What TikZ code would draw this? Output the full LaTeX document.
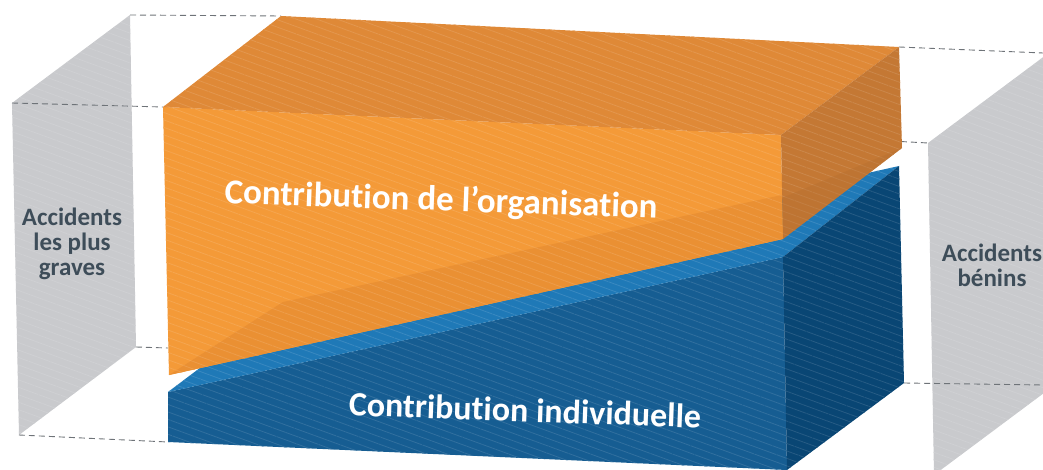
\documentclass[tikz,border=0pt]{standalone}
\usepackage{fontspec}
\setmainfont[RawFeature=-liga]{Carlito}
\usetikzlibrary{patterns.meta}

\definecolor{orfront}{RGB}{244,154,56}
\definecolor{ortop}{RGB}{223,137,55}
\definecolor{orside}{RGB}{196,120,52}
\definecolor{orshade}{RGB}{234,144,51}
\definecolor{blfront}{RGB}{22,93,146}
\definecolor{bltop}{RGB}{31,121,183}
\definecolor{blside}{RGB}{9,70,116}
\definecolor{panelgray}{RGB}{201,202,205}
\definecolor{slate}{RGB}{62,77,89}
\definecolor{guidegray}{RGB}{110,115,120}

\tikzset{
  face/.style={fill=#1,postaction={pattern={Lines[angle=-20,distance=7pt,line width=0.8pt]},pattern color=#1!88!white}},
  guide/.style={draw=guidegray,line width=0.9pt,dash pattern=on 6pt off 4pt},
  sidelabel/.style={text=slate,align=center,font=\bfseries\fontsize{25}{25}\selectfont},
  boxlabel/.style={text=white,font=\bfseries\fontsize{35}{38}\selectfont}
}

\begin{document}
\begin{tikzpicture}[x=1pt,y=-1pt]
    \useasboundingbox (0,0) rectangle (1043,470);
    \clip (0,0) rectangle (1043,470);

    % gray panels
    \coordinate (LA) at (12,103);
    \coordinate (LB) at (130,15);
    \coordinate (LC) at (136,347);
    \coordinate (LD) at (19,435);
    \coordinate (RA) at (928,143);
    \coordinate (RB) at (1046,55);
    \coordinate (RC) at (1052,387);
    \coordinate (RD) at (934,475);

    % orange box corners
    \coordinate (OA) at (163,107);
    \coordinate (OB) at (781,135);
    \coordinate (OC) at (783,239);
    \coordinate (OD) at (169,375);
    \coordinate (OE) at (281,16);
    \coordinate (OF) at (899,47);
    \coordinate (OG) at (902,148);

    % blue box corners
    \coordinate (BA) at (168,392);
    \coordinate (BB) at (783,257);
    \coordinate (BC) at (787,470);
    \coordinate (BD) at (168,442);
    \coordinate (BE) at (286,303);
    \coordinate (BF) at (899,166);
    \coordinate (BG) at (904,383);

    \path[face=panelgray] (LA) -- (LB) -- (LC) -- (LD) -- cycle;
    \path[face=panelgray] (RA) -- (RB) -- (RC) -- (RD) -- cycle;

    %-----

    \draw[guide] (LB) -- (OE);
    \draw[guide] (LA) -- (OA);
    \draw[guide] (LC) -- (168,348);
    \draw[guide] (LD) -- (BD);
    \draw[guide] (OF) -- (1043,53);
    \draw[guide] (OB) -- (RA);
    \draw[guide] (BG) -- (1043,385);

    %-----

    \path[face=blfront] (BA) -- (BB) -- (BC) -- (BD) -- cycle;
    \path[face=bltop] (BA) -- (BE) -- (BF) -- (BB) -- cycle;
    \path[face=blside] (BB) -- (BF) -- (BG) -- (BC) -- cycle;

    \path[face=orfront] (OA) -- (OB) -- (OC) -- (OD) -- cycle;
    \path[face=ortop] (OA) -- (OE) -- (OF) -- (OB) -- cycle;
    \path[face=orside] (OB) -- (OF) -- (OG) -- (OC) -- cycle;
    \path[face=orshade] (OD) -- (283,302) -- (782,195) -- (OC) -- cycle;
    \fill[orside!92!black, fill opacity=0.35] (782,198) -- (OG) -- (OC) -- cycle;

    %-----

    \node[sidelabel] (worst) at (72,244) {Accidents\\les plus\\graves};
    \node[sidelabel] (mild) at (992,265) {Accidents\\bénins};
    \node[boxlabel, rotate=-2] (org) at (441,201) {Contribution de l’organisation};
    \node[boxlabel, rotate=-2, font=\bfseries\fontsize{34}{36}\selectfont] (indiv) at (525,410) {Contribution individuelle};
\end{tikzpicture}
\end{document}
